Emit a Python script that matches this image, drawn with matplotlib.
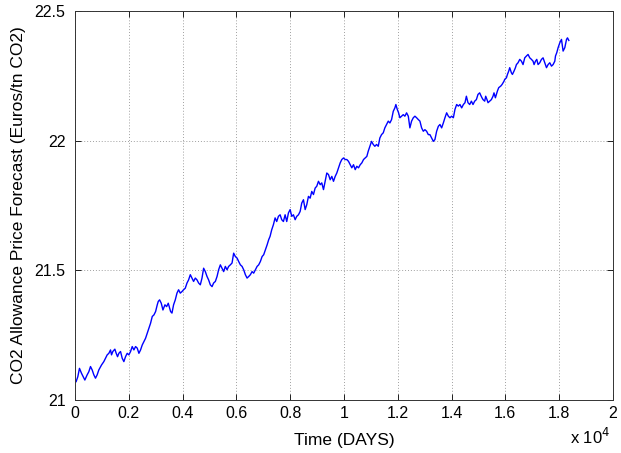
import matplotlib
matplotlib.use("Agg")
import matplotlib.pyplot as plt
import numpy as np

plt.rcParams["font.family"] = ["Liberation Sans", "DejaVu Sans"]

# Forecast path: time in days, price in Euros per tonne of CO2
days = [
    37, 100, 161, 236, 298, 361, 447, 509, 571, 633, 695, 757, 819, 881, 981, 1067,
    1130, 1192, 1254, 1316, 1353, 1402, 1477, 1527, 1577, 1626, 1688, 1750, 1812, 1874,
    1936, 1998, 2061, 2123, 2185, 2247, 2309, 2371, 2433, 2495, 2557, 2619, 2681, 2743,
    2805, 2868, 2930, 2992, 3054, 3091, 3141, 3203, 3265, 3340, 3402, 3463, 3550,
    3601, 3661, 3724, 3787, 3847, 3910, 3974, 4033, 4096, 4160, 4219, 4283, 4346, 4405,
    4469, 4532, 4592, 4655, 4718, 4778, 4841, 4905, 4964, 5027, 5091, 5150, 5214, 5277,
    5336, 5400, 5463, 5523, 5586, 5649, 5709, 5772, 5835, 5895, 5958, 6022, 6081, 6145,
    6208, 6268, 6331, 6394, 6454, 6517, 6580, 6640, 6703, 6767, 6826, 6889, 6953, 7012,
    7076, 7139, 7198,
    7250, 7310, 7374, 7437, 7496, 7560, 7623, 7683, 7746, 7809, 7869, 7932, 7996, 8055,
    8118, 8182, 8241, 8305, 8368, 8427, 8491, 8554, 8614, 8677, 8740, 8800, 8863, 8926,
    8986, 9049, 9113, 9172, 9236, 9299, 9359, 9422, 9485, 9545, 9608, 9671, 9731, 9794,
    9857, 9917, 9980, 10043, 10103, 10166, 10230, 10289, 10353, 10416, 10475, 10539,
    10602, 10662, 10725, 10788, 10848,
    10900, 10960, 11023, 11086, 11146, 11209, 11273, 11332, 11395, 11459, 11518, 11582,
    11645, 11705, 11768, 11831, 11891, 11928, 11980, 12029, 12077, 12140, 12203, 12263,
    12326, 12390, 12449, 12512, 12576, 12636, 12699, 12762, 12822, 12885, 12948, 13008,
    13071, 13134, 13194, 13257, 13321, 13380, 13444, 13507, 13567, 13630, 13693, 13753,
    13816, 13880, 13939, 14002, 14066, 14125, 14188, 14252, 14311, 14375, 14438, 14498,
    14550, 14610, 14673, 14736, 14796, 14859, 14922, 14982, 15045, 15083, 15130, 15168,
    15232, 15268, 15317, 15355, 15417, 15480, 15540, 15577, 15629, 15667, 15704, 15753,
    15827, 15875, 15950, 15976, 16039, 16077, 16125, 16162, 16225, 16262, 16322, 16374,
    16411, 16471, 16535, 16598, 16657, 16721, 16784, 16844, 16907, 16970, 17030, 17068,
    17119, 17168, 17216, 17279, 17342, 17402, 17466, 17529, 17589, 17652, 17715, 17775,
    17838, 17864, 17912, 17961, 18024, 18087, 18147, 18210, 18237, 18274, 18310, 18360,
]
price = [
    21.071, 21.090, 21.122, 21.103, 21.090, 21.077, 21.097, 21.109, 21.129, 21.116, 21.097,
    21.084, 21.097, 21.116, 21.135, 21.148, 21.161, 21.174, 21.180, 21.193, 21.174, 21.187,
    21.196, 21.180, 21.167, 21.180, 21.187, 21.161, 21.148, 21.167, 21.180, 21.174, 21.187,
    21.206, 21.193, 21.206, 21.200, 21.180, 21.193, 21.212, 21.225, 21.238, 21.257, 21.277,
    21.296, 21.322, 21.328, 21.341, 21.367, 21.380, 21.386, 21.373, 21.347, 21.367, 21.360,
    21.373, 21.341,
    21.335, 21.367, 21.386, 21.412, 21.425, 21.412, 21.418, 21.425, 21.431, 21.451, 21.463,
    21.483, 21.470, 21.457, 21.470, 21.463, 21.451, 21.444, 21.470, 21.508, 21.495, 21.476,
    21.463, 21.444, 21.437, 21.451, 21.457, 21.476, 21.502, 21.521, 21.508, 21.495, 21.515,
    21.502, 21.515, 21.521, 21.528, 21.566, 21.553, 21.547, 21.534, 21.521, 21.515, 21.502,
    21.483, 21.470, 21.476, 21.483, 21.495, 21.489, 21.502, 21.515, 21.521, 21.534, 21.553,
    21.560, 21.579, 21.598, 21.618,
    21.631, 21.656, 21.676, 21.702, 21.688, 21.708, 21.714, 21.695, 21.688, 21.714, 21.688,
    21.721, 21.734, 21.708, 21.714, 21.695, 21.708, 21.714, 21.727, 21.759, 21.772, 21.734,
    21.753, 21.785, 21.778, 21.804, 21.792, 21.817, 21.824, 21.843, 21.830, 21.837, 21.811,
    21.843, 21.875, 21.869, 21.849, 21.862, 21.843, 21.862, 21.875, 21.895, 21.914, 21.927,
    21.933, 21.927, 21.927, 21.920, 21.907, 21.895, 21.907, 21.888, 21.901, 21.895, 21.907,
    21.914, 21.927, 21.933, 21.939,
    21.959, 21.978, 21.997, 21.985, 21.978, 21.985, 21.978, 22.010, 22.023, 22.030, 22.049,
    22.062, 22.075, 22.068, 22.081, 22.113, 22.126, 22.139, 22.120, 22.107, 22.088, 22.094,
    22.100, 22.094, 22.107, 22.094, 22.049, 22.075, 22.088, 22.094, 22.088, 22.081, 22.075,
    22.049, 22.036, 22.042, 22.036, 22.023, 22.023, 22.010, 21.997, 22.004, 22.036, 22.055,
    22.062, 22.049, 22.068, 22.088, 22.107, 22.094, 22.088, 22.094, 22.088, 22.120, 22.139,
    22.133, 22.139, 22.126, 22.139, 22.146,
    22.171, 22.146, 22.139, 22.152, 22.139, 22.152, 22.158, 22.178, 22.184, 22.175, 22.165,
    22.158, 22.152, 22.171, 22.158, 22.146, 22.152, 22.158, 22.171, 22.184, 22.165, 22.178,
    22.191, 22.204, 22.210, 22.216, 22.229, 22.236, 22.242, 22.255, 22.268, 22.281, 22.261,
    22.255, 22.268, 22.281, 22.293, 22.300, 22.313, 22.306, 22.293, 22.319, 22.326, 22.332,
    22.319, 22.313, 22.306, 22.293, 22.306, 22.313, 22.293, 22.300, 22.313, 22.319, 22.300,
    22.281, 22.293, 22.300, 22.287, 22.293, 22.306, 22.326, 22.339, 22.358, 22.377, 22.390,
    22.345, 22.358, 22.371, 22.390, 22.396, 22.386,
]

x_ticks = [0, 2000, 4000, 6000, 8000, 10000, 12000, 14000, 16000, 18000, 20000]
x_tick_labels = ["0", "0.2", "0.4", "0.6", "0.8", "1", "1.2", "1.4", "1.6", "1.8", "2"]
y_ticks = [21.0, 21.5, 22.0, 22.5]
y_tick_labels = ["21", "21.5", "22", "22.5"]

fig = plt.figure(figsize=(6.21, 4.53), dpi=100)
ax = fig.add_axes([0.121, 0.117, 0.866, 0.859])

ax.plot(days, price, color=(0, 0, 1), linewidth=1.0)

ax.set_xlim(0, 20000)
ax.set_ylim(21.0, 22.5)
ax.set_xticks(x_ticks)
ax.set_xticklabels(x_tick_labels)
ax.set_yticks(y_ticks)
ax.set_yticklabels(y_tick_labels)

ax.grid(True, linestyle=(0, (1, 2)), color="#a0a0a0", linewidth=0.7)
ax.tick_params(direction="in", length=4, width=0.6, labelsize=11.5,
               top=True, right=True)
ax.tick_params(axis="x", pad=4)
ax.tick_params(axis="y", pad=7)
for side in ax.spines.values():
    side.set_linewidth(0.7)
    side.set_color("#333333")

ax.set_xlabel("Time (DAYS)", fontsize=12.5, labelpad=9)
ax.set_ylabel("CO2 Allowance Price Forecast (Euros/tn CO2)", fontsize=12.5, labelpad=6)

fig.text(0.918, 0.014, r"x 10$^{4}$", fontsize=12, ha="left", va="bottom")

fig.savefig("out.png", dpi=100)
